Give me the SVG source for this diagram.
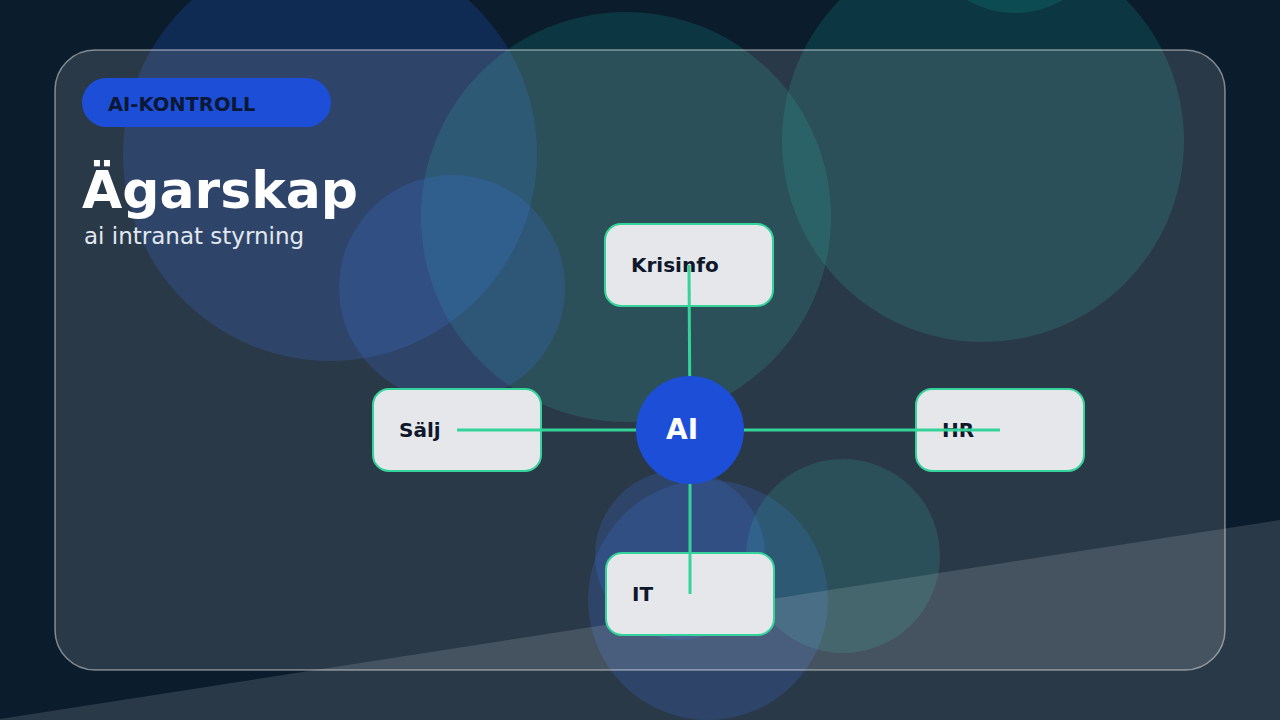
<svg xmlns="http://www.w3.org/2000/svg" width="1280" height="720" viewBox="0 0 1280 720">
<style>
.blob-b{fill:#2563eb;fill-opacity:0.2}
.blob-g{fill:#14b8a6;fill-opacity:0.17}
.box{fill:#e5e7eb;stroke:#34d399;stroke-width:2}
.lbl{font-family:"DejaVu Sans",sans-serif;font-weight:bold;font-size:20px;fill:#0f172a}
.edge{stroke:#34d399;stroke-width:3;fill:none}
</style>
<rect width="1280" height="720" fill="#0b1c2d"/>
<g id="decor">
<circle class="blob-b" cx="330" cy="154" r="207"/>
<circle class="blob-g" cx="626" cy="217" r="205"/>
<circle class="blob-g" cx="983" cy="141" r="201"/>
<circle class="blob-g" cx="1015" cy="-82" r="95"/>
<circle class="blob-b" cx="452" cy="288" r="113"/>
<circle class="blob-b" cx="680" cy="555" r="85" fill-opacity="0.15"/>
<circle class="blob-b" cx="708" cy="600" r="120" fill-opacity="0.16"/>
<circle class="blob-g" cx="843" cy="556" r="97"/>
<polygon points="0,719 1280,520 1280,720 0,720" fill="#ffffff" fill-opacity="0.13"/>
</g>
<rect id="card" x="55" y="50" width="1170" height="620" rx="40" fill="#ffffff" fill-opacity="0.13" stroke="#ffffff" stroke-opacity="0.45" stroke-width="1.5"/>
<g id="header">
<rect x="82" y="78" width="249" height="49" rx="24.5" fill="#1d4ed8"/>
<text x="108" y="111" font-family="DejaVu Sans,sans-serif" font-weight="bold" font-size="19.5" fill="#0b1836">AI-KONTROLL</text>
<text x="82" y="208" font-family="DejaVu Sans,sans-serif" font-weight="bold" font-size="52" fill="#ffffff">Ägarskap</text>
<text x="84" y="244" font-family="DejaVu Sans,sans-serif" font-size="23" fill="#e2e8f0">ai intranat styrning</text>
</g>
<g id="node-krisinfo"><rect class="box" x="605" y="224" width="168" height="82" rx="16"/><text class="lbl" x="631" y="272">Krisinfo</text></g>
<g id="node-salj"><rect class="box" x="373" y="389" width="168" height="82" rx="16"/><text class="lbl" x="399" y="437">Sälj</text></g>
<g id="node-hr"><rect class="box" x="916" y="389" width="168" height="82" rx="16"/><text class="lbl" x="942" y="437">HR</text></g>
<g id="node-it"><rect class="box" x="606" y="553" width="168" height="82" rx="16"/><text class="lbl" x="632" y="601">IT</text></g>
<g id="connectors">
<line class="edge" x1="689" y1="265" x2="690" y2="430"/>
<line class="edge" x1="457" y1="430" x2="690" y2="430"/>
<line class="edge" x1="690" y1="430" x2="1000" y2="430"/>
<line class="edge" x1="690" y1="430" x2="690" y2="594"/>
</g>
<g id="node-ai">
<circle cx="690" cy="430" r="54" fill="#1d4ed8"/>
<text x="666" y="439" font-family="DejaVu Sans,sans-serif" font-weight="bold" font-size="28" fill="#ffffff">AI</text>
</g>
</svg>
